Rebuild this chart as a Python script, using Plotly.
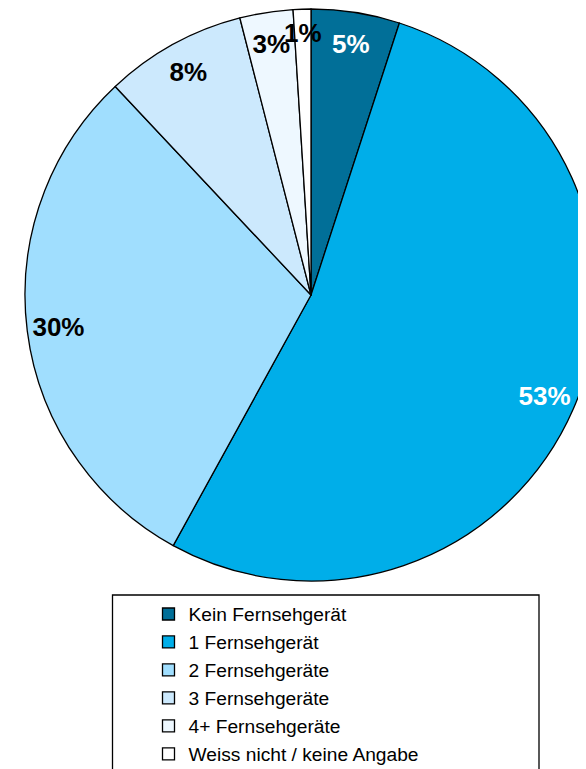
import plotly.graph_objects as go

categories = ["Kein Fernsehgerät", "1 Fernsehgerät", "2 Fernsehgeräte",
              "3 Fernsehgeräte", "4+ Fernsehgeräte", "Weiss nicht / keine Angabe"]
values = [5, 53, 30, 8, 3, 1]
colors = ["#016f98", "#00aee9", "#a0defe", "#cce9fd", "#eef8ff", "#ffffff"]
label_colors = ["white", "white", "black", "black", "black", "black"]
label_texts = [f"{v}%" for v in values]

# page is offset by the browser's 8px body margin
OFF = 8
W, H = 600, 769
cx, cy, r = 311 - OFF, 295 - OFF, 286


def dom(radius):
    return dict(x=[(cx - radius) / W, (cx + radius) / W],
                y=[1 - (cy + radius) / H, 1 - (cy - radius) / H])


# label rings: narrower slices get their label on a slightly smaller ring
rings = [(lambda v: v >= 5, r), (lambda v: 2 <= v < 5, 278), (lambda v: v < 2, 270)]

fig = go.Figure()
fig.add_trace(go.Pie(
    labels=categories, values=values, sort=False, direction="clockwise",
    rotation=0, marker=dict(colors=colors, line=dict(color="black", width=1.3)),
    textinfo="none", hoverinfo="label+percent", domain=dom(r),
    showlegend=True,
))
for cond, radius in rings:
    txt = [t if cond(v) else "" for t, v in zip(label_texts, values)]
    fig.add_trace(go.Pie(
        labels=categories, values=values, sort=False, direction="clockwise",
        rotation=0, hole=0.78,
        marker=dict(colors=["rgba(0,0,0,0)"] * len(values), line=dict(width=0)),
        text=txt, texttemplate="<b>%{text}</b>", textposition="inside",
        insidetextorientation="horizontal",
        textfont=dict(family="Liberation Sans, Arial", size=26, color=label_colors),
        hoverinfo="skip", showlegend=False, domain=dom(radius),
    ))

fig.add_shape(type="rect", xref="paper", yref="paper",
              x0=(112.5 - OFF) / W, x1=(539 - OFF) / W, y0=-0.02, y1=1 - (595 - OFF) / H,
              line=dict(color="black", width=1.3), fillcolor="rgba(0,0,0,0)")

fig.update_layout(
    width=W, height=H, margin=dict(l=0, r=0, t=0, b=0),
    paper_bgcolor="white", plot_bgcolor="white",
    uniformtext=dict(minsize=26, mode="show"),
    legend=dict(x=(168.5 - OFF - 20) / W, xanchor="left", y=1 - 587 / H, yanchor="top",
                font=dict(family="Liberation Sans, Arial", size=19.2, color="black"),
                bgcolor="rgba(0,0,0,0)", borderwidth=0, traceorder="normal"),
    font=dict(family="Liberation Sans, Arial"),
)

fig.write_html("out.html")
